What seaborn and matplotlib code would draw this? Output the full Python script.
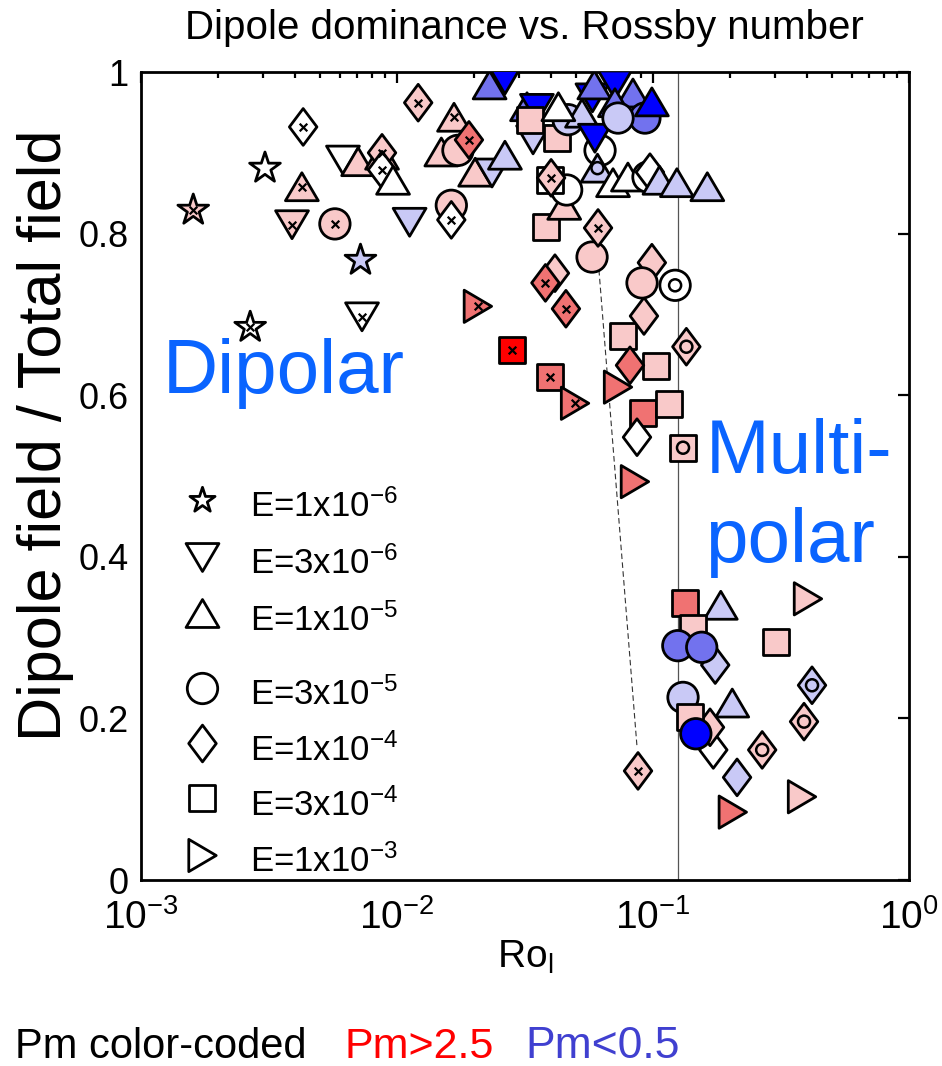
import numpy as np
import pandas as pd
import matplotlib
matplotlib.use("Agg")
import matplotlib.pyplot as plt
from matplotlib.path import Path
from matplotlib.ticker import LogLocator, NullFormatter, FixedLocator, FixedFormatter
import seaborn as sns

# ------------------------------------------------------------------ data
ro = [1.6e-3, 3.05e-3, 2.67e-3, 7.2e-3, 4.3e-3, 4.25e-3, 3.89e-3, 5.72e-3, 7.3e-3, 6.15e-3,
      7.05e-3, 8.74e-3, 8.74e-3, 8.74e-3, 9.65e-3, 1.12e-2, 1.21e-2, 1.63e-2, 1.63e-2, 1.67e-2,
      1.49e-2, 1.73e-2, 1.91e-2, 2.02e-2, 2.35e-2, 2.64e-2, 2.3e-2, 2.64e-2, 3.22e-2, 3.52e-2,
      3.4e-2, 3.82e-2, 4.14e-2, 3.8e-2, 4.57e-2, 2.07e-2, 2.81e-2, 3.96e-2, 4.96e-2, 7.3e-2,
      7.63e-2, 0.103, 9.22e-2, 8.13e-2, 9.1e-2, 0.1155, 8.66e-2, 0.131, 8.5e-2, 0.135,
      0.122, 9.9e-2, 9.06e-2, 5.78e-2, 6.1e-2, 4.5e-2, 4.6e-2, 3.96e-2, 4.0e-2, 6.21e-2,
      6.07e-2, 6.98e-2, 7.98e-2, 9.56e-2, 9.73e-2, 0.106, 0.124, 0.163, 4.22e-2, 3.3e-2,
      4.66e-2, 5.28e-2, 4.27e-2, 5.93e-2, 5.8e-2, 7.1e-2, 5.9e-2, 8.35e-2, 7.1e-2, 9.3e-2,
      7.3e-2, 9.9e-2,
      0.133, 0.184, 0.403, 0.143, 0.302, 0.175, 0.125, 0.155, 0.418, 0.131,
      0.204, 0.389, 0.172, 0.167, 0.139, 0.147, 0.267, 0.213, 0.382, 0.205, 8.74e-2]

ratio = [0.829, 0.881, 0.684, 0.767, 0.932, 0.858, 0.811, 0.812, 0.697, 0.891,
         0.889, 0.897, 0.900, 0.879, 0.866, 0.814, 0.962, 0.835, 0.817, 0.944,
         0.901, 0.903, 0.916, 0.876, 0.875, 0.897, 0.984, 0.990, 0.957, 0.955,
         0.916, 0.808, 0.751, 0.739, 0.707, 0.710, 0.656, 0.623, 0.590, 0.610,
         0.673, 0.636, 0.698, 0.637, 0.578, 0.589, 0.548, 0.535, 0.493, 0.660,
         0.736, 0.764, 0.739, 0.771, 0.807, 0.835, 0.854, 0.866, 0.869, 0.903,
         0.881, 0.863, 0.870, 0.870, 0.876, 0.866, 0.863, 0.858, 0.918, 0.940,
         0.941, 0.949, 0.957, 0.918, 0.968, 0.984, 0.984, 0.974, 0.962, 0.943,
         0.943, 0.963,
         0.343, 0.340, 0.348, 0.312, 0.295, 0.266, 0.290, 0.288, 0.241, 0.226,
         0.219, 0.196, 0.161, 0.189, 0.202, 0.181, 0.161, 0.127, 0.103, 0.084, 0.135]

ekman = ["1e-6", "1e-6", "1e-6", "1e-6", "1e-4", "1e-5", "3e-6", "3e-5", "3e-6", "3e-6",
         "1e-5", "1e-5", "1e-4", "1e-4", "1e-5", "3e-6", "1e-4", "3e-5", "1e-4", "1e-5",
         "1e-5", "3e-5", "1e-4", "1e-5", "3e-6", "1e-5", "1e-5", "3e-6", "1e-5", "3e-6",
         "3e-6", "3e-4", "1e-4", "1e-4", "1e-4", "1e-3", "3e-4", "3e-4", "1e-3", "1e-3",
         "3e-4", "3e-4", "1e-4", "1e-4", "3e-4", "3e-4", "1e-4", "3e-4", "1e-3", "1e-4",
         "3e-5", "1e-4", "3e-5", "3e-5", "1e-4", "1e-5", "3e-5", "3e-4", "1e-4", "3e-5",
         "1e-5", "1e-5", "1e-5", "3e-5", "1e-4", "1e-5", "1e-5", "1e-5", "3e-4", "3e-4",
         "3e-5", "1e-5", "1e-5", "3e-6", "3e-6", "3e-6", "1e-5", "1e-5", "1e-5", "3e-5",
         "3e-5", "1e-5",
         "3e-4", "1e-5", "1e-3", "3e-4", "3e-4", "1e-4", "3e-5", "3e-5", "1e-4", "3e-5",
         "1e-5", "1e-4", "1e-4", "1e-4", "3e-4", "3e-5", "1e-4", "1e-4", "1e-3", "1e-3", "1e-4"]

pm_class = ["pink", "white", "white", "light_blue", "white", "pink", "pink", "pink", "white", "white",
            "pink", "pink", "pink", "white", "white", "light_blue", "pink", "pink", "white", "pink",
            "pink", "pink", "mid_red", "pink", "light_blue", "light_blue", "mid_blue", "blue", "mid_blue", "blue",
            "light_blue", "pink", "pink", "mid_red", "mid_red", "mid_red", "red", "mid_red", "mid_red", "mid_red",
            "pink", "pink", "pink", "mid_red", "mid_red", "pink", "white", "pink", "mid_red", "pink",
            "white", "pink", "pink", "pink", "pink", "pink", "white", "white", "pink", "white",
            "light_blue", "white", "white", "white", "white", "light_blue", "light_blue", "light_blue", "pink", "pink",
            "light_blue", "light_blue", "white", "blue", "blue", "blue", "mid_blue", "mid_blue", "mid_blue", "mid_blue",
            "light_blue", "blue",
            "mid_red", "light_blue", "pink", "pink", "pink", "light_blue", "mid_blue", "mid_blue", "light_blue", "light_blue",
            "light_blue", "pink", "white", "pink", "pink", "blue", "pink", "light_blue", "pink", "mid_red", "pink"]

inner = ["x", "", "x", "", "x", "x", "x", "x", "x", "",
         "", "", "x", "x", "", "", "x", "", "x", "x",
         "", "", "x", "", "", "", "", "", "", "",
         "", "", "", "x", "x", "x", "x", "x", "x", "",
         "", "", "", "", "", "", "", "o", "", "o",
         "o", "", "", "", "x", "", "", "", "x", "",
         "o", "", "", "", "", "", "", "", "", "",
         "", "", "", "", "", "", "", "", "", "",
         "", "",
         "", "", "", "", "", "", "", "", "o", "",
         "", "o", "", "", "", "", "o", "", "", "", "x"]

e_levels = ["1e-6", "3e-6", "1e-5", "3e-5", "1e-4", "3e-4", "1e-3"]
e_labels = ["E=1x10$^{-6}$", "E=3x10$^{-6}$", "E=1x10$^{-5}$", "E=3x10$^{-5}$",
            "E=1x10$^{-4}$", "E=3x10$^{-4}$", "E=1x10$^{-3}$"]
pm_palette = {"white": "#ffffff", "pink": "#f9c9c9", "mid_red": "#f07272", "red": "#ff0000",
              "light_blue": "#c9c9f6", "mid_blue": "#7272ee", "blue": "#0000ff"}
threshold_ro = 0.125
link_ro = [0.0615, 0.0866]
link_ratio = [0.755, 0.165]

df = pd.DataFrame({"Ro": ro, "ratio": ratio, "E": ekman, "Pm": pm_class, "inner": inner})

# ------------------------------------------------------------------ styling
sns.set_theme(style="white")
plt.rcParams["font.family"] = ["Liberation Sans", "DejaVu Sans"]
plt.rcParams["mathtext.fontset"] = "custom"
plt.rcParams["mathtext.rm"] = "Liberation Sans"
plt.rcParams["mathtext.it"] = "Liberation Sans:italic"
plt.rcParams["mathtext.bf"] = "Liberation Sans:bold"
for key in ["text.color", "axes.labelcolor", "xtick.color", "ytick.color"]:
    plt.rcParams[key] = "black"


def closed(v):
    return Path(list(v) + [v[0]], closed=True)


tri_up = closed([(0, 0.85), (-1, -0.85), (1, -0.85)])
tri_down = closed([(0, -0.85), (-1, 0.85), (1, 0.85)])
tri_right = closed([(0.85, 0), (-0.85, 1), (-0.85, -1)])
diamond = closed([(0, 1), (0.75, 0), (0, -1), (-0.75, 0)])
markers = {"1e-6": "*", "3e-6": tri_down, "1e-5": tri_up, "3e-5": "o",
           "1e-4": diamond, "3e-4": "s", "1e-3": tri_right}
sizes = {"1e-6": 540, "3e-6": 560, "1e-5": 560, "3e-5": 480,
         "1e-4": 700, "3e-4": 350, "1e-3": 540}

fig = plt.figure(figsize=(9.42, 10.66), dpi=100)
ax = fig.add_axes([141 / 942, 1 - 880 / 1066, 768 / 942, 808 / 1066])

ax.axvline(threshold_ro, color="#555555", lw=0.9, zorder=1)
ax.plot(link_ro, link_ratio, ls=(0, (5, 3)), color="#333333", lw=0.8, zorder=1)

sns.scatterplot(data=df, x="Ro", y="ratio", hue="Pm", palette=pm_palette,
                style="E", markers=markers, size="E", sizes=sizes,
                edgecolor="black", linewidth=2.0, legend=False, ax=ax, zorder=3)

dx = df[df["inner"] == "x"]
sns.scatterplot(data=dx, x="Ro", y="ratio", marker="x", color="black", s=30,
                linewidth=1.6, legend=False, ax=ax, zorder=4)
do = df[df["inner"] == "o"]
sns.scatterplot(data=do, x="Ro", y="ratio", hue="Pm", palette=pm_palette, marker="o",
                s=75, edgecolor="black", linewidth=1.8, legend=False, ax=ax, zorder=4)

ax.set_xscale("log")
ax.set_xlim(1e-3, 1)
ax.set_ylim(0, 1)
ax.xaxis.set_major_locator(FixedLocator([1e-3, 1e-2, 1e-1, 1e0]))
ax.xaxis.set_major_formatter(FixedFormatter(["$10^{-3}$", "$10^{-2}$", "$10^{-1}$", "$10^{0}$"]))
ax.xaxis.set_minor_locator(LogLocator(base=10, subs=np.arange(2, 10)))
ax.xaxis.set_minor_formatter(NullFormatter())
ax.set_yticks([0, 0.2, 0.4, 0.6, 0.8, 1.0])
ax.set_yticklabels(["0", "0.2", "0.4", "0.6", "0.8", "1"])
ax.tick_params(which="both", direction="in", top=True, right=True, width=1.6, colors="black")
ax.tick_params(which="major", length=8)
ax.tick_params(which="minor", length=4)
ax.tick_params(axis="y", labelsize=26, pad=9)
ax.tick_params(axis="x", labelsize=28, pad=14)
for sp in ax.spines.values():
    sp.set_linewidth(2.0)
    sp.set_color("black")

ax.set_xlabel("Ro$_\\mathregular{l}$", fontsize=28, labelpad=1)
ax.set_ylabel("Dipole field / Total field", fontsize=44)
ax.yaxis.set_label_coords(-0.087, 0.551)

fig.text(0.557, 1 - 28 / 1066, "Dipole dominance vs. Rossby number", fontsize=29,
         ha="center", va="center")

ax.text(0.028, 0.603, "Dipolar", transform=ax.transAxes, fontsize=55, color="#0a64ff",
        ha="left", va="baseline")
ax.text(0.735, 0.504, "Multi-", transform=ax.transAxes, fontsize=55, color="#0a64ff",
        ha="left", va="baseline")
ax.text(0.735, 0.394, "polar", transform=ax.transAxes, fontsize=55, color="#0a64ff",
        ha="left", va="baseline")

# manual legend for Ekman number
leg_y = [0.470, 0.400, 0.330, 0.238, 0.169, 0.101, 0.031]
leg_sizes = {"1e-6": 360, "3e-6": 560, "1e-5": 560, "3e-5": 480,
             "1e-4": 700, "3e-4": 350, "1e-3": 540}
for lev, lab, yy in zip(e_levels, e_labels, leg_y):
    ax.scatter([0.0794], [yy], transform=ax.transAxes, marker=markers[lev], s=leg_sizes[lev],
               facecolor="white", edgecolor="black", linewidth=2.0, zorder=5, clip_on=False)
    ax.text(0.142, yy - 0.021, lab, transform=ax.transAxes, fontsize=25,
            ha="left", va="baseline", zorder=5)

fig.text(15 / 942, 1 - 1047 / 1066, "Pm color-coded", fontsize=30,
         ha="left", va="center", color="black")
fig.text(345 / 942, 1 - 1047 / 1066, "Pm>2.5", fontsize=31,
         ha="left", va="center", color="#ff0000")
fig.text(525 / 942, 1 - 1047 / 1066, "Pm<0.5", fontsize=32,
         ha="left", va="center", color="#4040d0")

fig.savefig("out.png", dpi=100)
